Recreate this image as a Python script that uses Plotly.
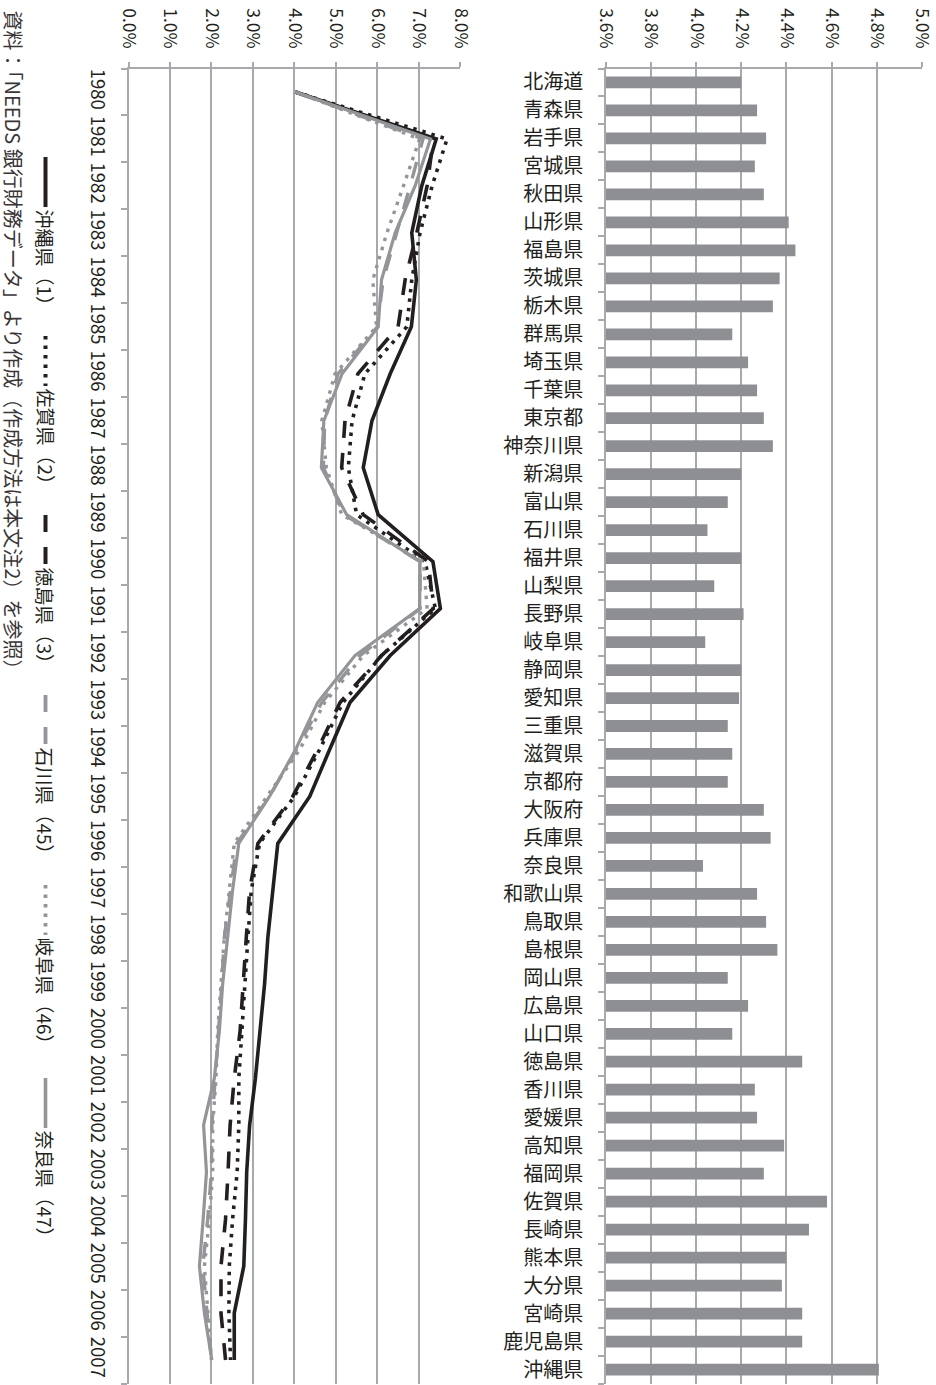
import plotly.graph_objects as go

# ---- data -----------------------------------------------------------------
prefectures = [
    "北海道", "青森県", "岩手県", "宮城県", "秋田県", "山形県", "福島県", "茨城県",
    "栃木県", "群馬県", "埼玉県", "千葉県", "東京都", "神奈川県", "新潟県", "富山県",
    "石川県", "福井県", "山梨県", "長野県", "岐阜県", "静岡県", "愛知県", "三重県",
    "滋賀県", "京都府", "大阪府", "兵庫県", "奈良県", "和歌山県", "鳥取県", "島根県",
    "岡山県", "広島県", "山口県", "徳島県", "香川県", "愛媛県", "高知県", "福岡県",
    "佐賀県", "長崎県", "熊本県", "大分県", "宮崎県", "鹿児島県", "沖縄県",
]
avg_rate = [
    4.20, 4.27, 4.31, 4.26, 4.30, 4.41, 4.44, 4.37,
    4.34, 4.16, 4.23, 4.27, 4.30, 4.34, 4.20, 4.14,
    4.05, 4.20, 4.08, 4.21, 4.04, 4.20, 4.19, 4.14,
    4.16, 4.14, 4.30, 4.33, 4.03, 4.27, 4.31, 4.36,
    4.14, 4.23, 4.16, 4.47, 4.26, 4.27, 4.39, 4.30,
    4.58, 4.50, 4.40, 4.38, 4.47, 4.47, 4.81,
]

years = [str(y) for y in range(1980, 2008)]

okinawa = [4.02, 7.42, 7.07, 6.83, 6.94, 6.82, 6.31, 5.87, 5.66, 6.02, 7.34, 7.52, 6.31, 5.34,
           4.85, 4.37, 3.60, 3.48, 3.36, 3.28, 3.18, 3.06, 2.92, 2.85, 2.82, 2.78, 2.55, 2.55]
saga = [4.02, 7.68, 7.32, 7.03, 6.83, 6.71, 5.70, 5.39, 5.30, 5.50, 7.15, 7.40, 6.10, 5.17,
        4.61, 4.00, 3.16, 2.96, 2.88, 2.80, 2.74, 2.66, 2.66, 2.62, 2.51, 2.43, 2.42, 2.46]
tokushima = [4.02, 7.35, 7.20, 6.95, 6.67, 6.50, 5.53, 5.22, 5.14, 5.66, 7.23, 7.35, 6.10, 5.10,
             4.56, 3.96, 3.12, 2.92, 2.84, 2.77, 2.69, 2.55, 2.45, 2.40, 2.34, 2.23, 2.23, 2.34]
ishikawa = [4.02, 7.10, 6.79, 6.47, 6.14, 6.00, 5.05, 4.73, 4.70, 5.20, 7.03, 7.03, 5.58, 4.66,
            4.05, 3.40, 2.61, 2.46, 2.31, 2.25, 2.17, 2.09, 2.01, 2.00, 1.91, 1.79, 1.89, 2.00]
gifu = [4.02, 7.02, 6.63, 6.23, 5.89, 5.98, 4.98, 4.66, 4.77, 5.14, 7.11, 7.20, 5.66, 4.73,
        4.13, 3.35, 2.55, 2.43, 2.31, 2.23, 2.15, 2.11, 2.03, 2.03, 1.95, 1.83, 1.91, 2.00]
nara = [4.02, 7.28, 6.91, 6.43, 6.10, 6.02, 5.15, 4.71, 4.65, 5.26, 7.03, 7.02, 5.46, 4.56,
        4.03, 3.40, 2.66, 2.51, 2.39, 2.27, 2.19, 2.07, 1.81, 1.88, 1.80, 1.71, 1.83, 2.01]

series_names = ["沖縄県（1）", "佐賀県（2）", "徳島県（3）", "石川県（45）", "岐阜県（46）", "奈良県（47）"]
series_values = [okinawa, saga, tokushima, ishikawa, gifu, nara]

source_note = "資料：「NEEDS 銀行財務データ」より作成（作成方法は本文注2）を参照）"

# ---- styling ----------------------------------------------------------------
W, H = 936, 1385
INK = "#231f20"
GREY = "#939598"
GRID = "#a7a9ac"
FONT = "Noto Sans CJK JP"
BLACK = "#231f20"

styles = [
    dict(color=BLACK, width=3.6, dash="solid"),
    dict(color=BLACK, width=3.6, dash="3.5px,6px"),
    dict(color=BLACK, width=3.6, dash="17px,15px"),
    dict(color=GREY, width=3.4, dash="17px,15px"),
    dict(color=GREY, width=3.4, dash="3.5px,6px"),
    dict(color=GREY, width=3.2, dash="solid"),
]


def px_x(x):
    return x / W


def px_y(y):
    return 1 - y / H


plot_top, plot_bottom = 68.5, 1383.5

fig = go.Figure()

# line chart (left)
for name, vals, st in zip(series_names, series_values, styles):
    fig.add_trace(go.Scatter(
        x=vals, y=years, mode="lines", name=name,
        line=dict(color=st["color"], width=st["width"], dash=st["dash"]),
        xaxis="x", yaxis="y", showlegend=False,
    ))

# bar chart (right)
fig.add_trace(go.Bar(
    x=avg_rate, y=prefectures, orientation="h",
    marker=dict(color="#8e8f93", line=dict(width=0)),
    width=0.42, xaxis="x2", yaxis="y2", showlegend=False,
))

value_axis = dict(
    side="top", showgrid=True, gridcolor=GRID, gridwidth=1.5,
    showline=True, linecolor=GRID, linewidth=1.5,
    ticks="outside", ticklen=5, tickcolor=GRID, tickwidth=1.5,
    tickangle=90, ticksuffix="%", tickformat=".1f", ticklabelstandoff=7,
    ticklabeloverflow="allow",
    tickfont=dict(family=FONT, size=17.5, color=INK),
    zeroline=False, fixedrange=True, automargin=False,
)
cat_axis = dict(
    type="category", showgrid=False, showline=True, linecolor=GRID, linewidth=1.5,
    ticks="outside", ticklen=6, tickcolor=GRID, tickwidth=1.5, tickson="boundaries",
    ticklabeloverflow="allow",
    zeroline=False, fixedrange=True, automargin=False,
)

fig.update_layout(
    width=W, height=H, autosize=False,
    margin=dict(l=0, r=0, t=0, b=0, pad=0, autoexpand=False),
    paper_bgcolor="white", plot_bgcolor="white",
    showlegend=False,
    xaxis=dict(value_axis, domain=[px_x(128.5), px_x(460.3)], range=[0, 8], dtick=1,
               anchor="y"),
    yaxis=dict(cat_axis, domain=[px_y(plot_bottom), px_y(plot_top)],
               range=[27.5, -0.5], anchor="x", tickangle=90,
               ticklabelstandoff=14,
               tickfont=dict(family=FONT, size=18.5, color=INK),
               tickmode="array", tickvals=years, ticktext=years),
    xaxis2=dict(value_axis, domain=[px_x(606), px_x(921.7)], range=[3.6, 5.0],
                tick0=3.6, dtick=0.2, anchor="y2"),
    yaxis2=dict(cat_axis, domain=[px_y(plot_bottom), px_y(plot_top)],
                range=[46.5, -0.5], anchor="x2", ticklabelstandoff=17,
                tickfont=dict(family=FONT, size=20, color=INK),
                tickmode="array", tickvals=prefectures, ticktext=prefectures),
    bargap=0.58,
)

# legend, drawn vertically beside the year axis
legend_x = 45.5
legend_rows = [157, 336, 515, 695, 885, 1078]
shapes = []
annotations = []
for name, st, y0 in zip(series_names, styles, legend_rows):
    shapes.append(dict(
        type="line", xref="paper", yref="paper",
        x0=px_x(legend_x), x1=px_x(legend_x), y0=px_y(y0), y1=px_y(y0 + 50),
        line=dict(color=st["color"], width=st["width"] + 0.4, dash=st["dash"]),
    ))
    annotations.append(dict(
        text=name, xref="paper", yref="paper", x=px_x(legend_x), y=px_y(y0 + 50),
        xanchor="center", yanchor="top", textangle=90, showarrow=False,
        font=dict(family=FONT, size=19, color=INK),
    ))

annotations.append(dict(
    text=source_note, xref="paper", yref="paper", x=px_x(13), y=px_y(8),
    xanchor="center", yanchor="top", textangle=90, showarrow=False,
    font=dict(family=FONT, size=20, color="#3a3637"),
))

fig.update_layout(shapes=shapes, annotations=annotations)

fig.write_html("out.html")
